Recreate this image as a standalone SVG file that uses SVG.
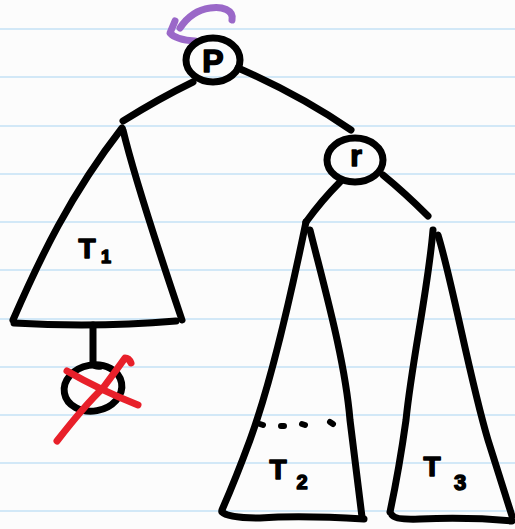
<svg xmlns="http://www.w3.org/2000/svg" width="515" height="529" viewBox="0 0 515 529">
  <style>
    .rule { stroke: #d2e8f7; stroke-width: 2; }
    .ink { fill: none; stroke: #000; stroke-width: 7; stroke-linecap: round; stroke-linejoin: round; }
    .dots { fill: none; stroke: #000; stroke-width: 6; stroke-linecap: round; }
    .red { fill: none; stroke: #e8202a; stroke-width: 7; stroke-linecap: round; stroke-linejoin: round; }
    .purple { fill: none; stroke: #9a68c8; stroke-width: 7; stroke-linecap: round; stroke-linejoin: round; }
    .lbl { font-family: "Liberation Sans", Arial, sans-serif; font-weight: bold; fill: #000; stroke: #000; stroke-width: 1.5; stroke-linejoin: round; }
  </style>
  <rect width="515" height="529" fill="#fcfcfc"/>
  <g id="paper-rules">
    <line class="rule" x1="0" y1="29" x2="515" y2="29"/>
    <line class="rule" x1="0" y1="77" x2="515" y2="77"/>
    <line class="rule" x1="0" y1="126" x2="515" y2="126"/>
    <line class="rule" x1="0" y1="174" x2="515" y2="174"/>
    <line class="rule" x1="0" y1="222" x2="515" y2="222"/>
    <line class="rule" x1="0" y1="270" x2="515" y2="270"/>
    <line class="rule" x1="0" y1="319" x2="515" y2="319"/>
    <line class="rule" x1="0" y1="367" x2="515" y2="367"/>
    <line class="rule" x1="0" y1="415" x2="515" y2="415"/>
    <line class="rule" x1="0" y1="463" x2="515" y2="463"/>
    <line class="rule" x1="0" y1="511" x2="515" y2="511"/>
  </g>

  <g id="connectors">
    <path class="ink" d="M193,82 Q160,98 123,121"/>
    <path class="ink" d="M238,68 Q300,95 351,130"/>
    <path class="ink" d="M340,182 Q322,200 306,222"/>
    <path class="ink" d="M383,175 Q405,193 428,216"/>
    <path class="ink" d="M93,325 L93,364 Q96,367 101,366"/>
  </g>

  <g id="rotation-arrow">
    <path class="purple" d="M232,20 C234,10 222,6 210,8 C196,10 186,19 180,28"/>
    <path class="purple" d="M175,21 L170,33 Q176,40 195,41"/>
  </g>

  <g id="node-p">
    <ellipse class="ink" cx="213" cy="60" rx="27" ry="22"/>
    <text class="lbl" x="213" y="72" font-size="32" text-anchor="middle">P</text>
  </g>

  <g id="node-r">
    <ellipse class="ink" cx="355" cy="160" rx="28" ry="22"/>
    <text class="lbl" x="356" y="166" font-size="30" text-anchor="middle">r</text>
  </g>

  <g id="tree-t1">
    <path class="ink" d="M13,320 C40,258 70,195 122,128"/>
    <path class="ink" d="M123,130 C135,180 160,255 182,320"/>
    <path class="ink" d="M14,323 Q95,328 176,321"/>
    <text class="lbl" x="87" y="258" font-size="28" text-anchor="middle">T</text>
    <text class="lbl" x="106" y="263" font-size="18" text-anchor="middle">1</text>
  </g>

  <g id="node-deleted">
    <ellipse class="ink" cx="93" cy="388" rx="29" ry="23" transform="rotate(-10 93 388)"/>
    <path class="red" d="M57,441 Q85,405 103,388 Q115,372 125,358 Q129,358 131,363"/>
    <path class="red" d="M67,371 Q100,390 138,405"/>
  </g>

  <g id="tree-t2">
    <path class="ink" d="M306,222 C292,290 272,380 250,440 Q236,478 222,510"/>
    <path class="ink" d="M310,230 C325,290 345,360 350,420 Q356,470 362,517"/>
    <path class="ink" d="M222,512 Q228,518 260,518 Q300,515 364,519"/>
    <path class="dots" d="M260,424 L263,425 M281,426 L284,426 M302,424 L305,425 M330,422 L333,424"/>
    <text class="lbl" x="278" y="479" font-size="28" text-anchor="middle">T</text>
    <text class="lbl" x="302" y="489" font-size="20" text-anchor="middle">2</text>
  </g>

  <g id="tree-t3">
    <path class="ink" d="M433,230 C428,290 412,360 406,420 Q399,470 390,512"/>
    <path class="ink" d="M438,235 C452,280 470,380 488,440 L512,516"/>
    <path class="ink" d="M392,515 Q395,520 420,519 Q470,517 512,521"/>
    <text class="lbl" x="432" y="476" font-size="28" text-anchor="middle">T</text>
    <text class="lbl" x="460" y="490" font-size="22" text-anchor="middle">3</text>
  </g>
</svg>
